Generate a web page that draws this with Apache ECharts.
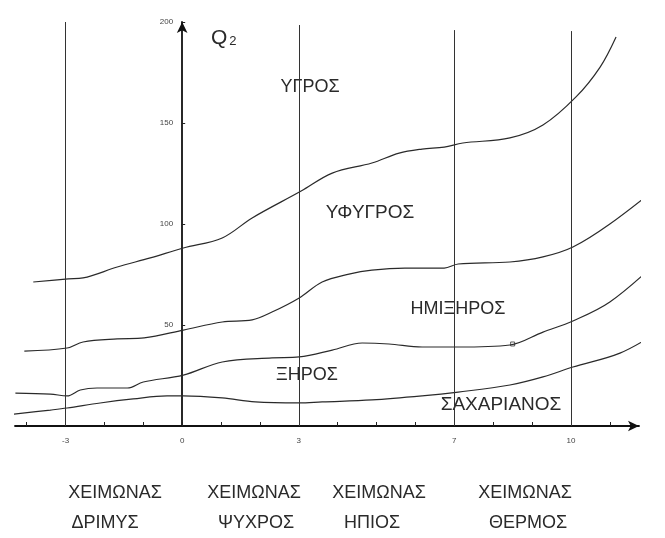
<!DOCTYPE html>
<html lang="el">
<head>
<meta charset="UTF-8">
<title>Κλιματόγραμμα Q2</title>
<script src="https://cdn.jsdelivr.net/npm/echarts@6.0.0/dist/echarts.min.js"></script>
<style>
    html, body { margin: 0; padding: 0; background: #fff; }
    #container { width: 665px; height: 538px; }
</style>
</head>
<body>
<div id="container"></div>
<script type="text/javascript">
    // ορια βιοκλιματικων οροφων: [m, Q2]
    const humidLine = [
        [-3.83, 71.3], [-2.93, 72.8], [-2.55, 73.3], [-1.67, 78.7], [-0.82, 83.2],
        [0.03, 88.1], [1.03, 93.1], [1.80, 103], [3.06, 116.3], [3.86, 125.2],
        [4.88, 130.2], [5.58, 135.1], [6.17, 137.1], [6.74, 138.1], [7.22, 140.1],
        [8.43, 142.6], [9.28, 149], [10.13, 162.9], [10.75, 177.7], [11.16, 192.6]
    ];
    const subhumidLine = [
        [-4.06, 37.1], [-2.96, 38.6], [-2.55, 41.6], [-1.67, 43.1], [-0.98, 43.6],
        [0.03, 47.5], [1.03, 51.5], [1.80, 52.5], [2.31, 56.4], [3.01, 63.4],
        [3.60, 71.3], [4.29, 75.2], [4.88, 77.2], [5.73, 78.2], [6.74, 78.2],
        [7.10, 80.2], [8.43, 81.2], [9.28, 83.7], [10.05, 88.6], [11.0, 100],
        [12.3, 119.3]
    ];
    const semiaridLine = [
        [-4.29, 16.3], [-3.39, 15.8], [-2.96, 14.9], [-2.62, 17.8], [-2.19, 18.8],
        [-1.41, 18.8], [-1.0, 21.8], [0.03, 25.2], [1.03, 31.7], [2.31, 33.7],
        [3.01, 34.2], [3.86, 37.6], [4.63, 41.1], [5.32, 40.6], [6.17, 39.1],
        [7.10, 39.1], [8.43, 40.1], [9.28, 46.5], [10.05, 52], [11.0, 61.4],
        [12.19, 80.7]
    ];
    const aridLine = [
        [-4.34, 5.9], [-3.39, 7.9], [-2.96, 8.9], [-2.11, 11.4], [-1.26, 13.4],
        [-0.39, 14.9], [0.03, 14.9], [1.03, 13.9], [1.88, 11.9], [3.01, 11.4],
        [3.60, 11.9], [4.88, 12.9], [6.17, 14.9], [7.10, 16.8], [8.43, 20.3],
        [9.28, 24.3], [10.05, 29.2], [11.26, 36.1], [12.19, 46]
    ];
    const oddMark = [[8.5, 40.6]];

    // ορια χειμωνα (m) και υψος γραμμων
    const winterBounds = [-3, 3, 7, 10];
    const winterTops = [200, 198.5, 196, 195.5];

    const xLabelValues = [-3, 0, 3, 7, 10];
    const xTickValues = [-4, -3, -2, -1, 0, 1, 2, 3, 4, 5, 6, 7, 8, 9, 10, 11];
    const yLabelValues = [50, 100, 150, 200];

    const zoneNames = ['ΥΓΡΟΣ', 'ΥΦΥΓΡΟΣ', 'ΗΜΙΞΗΡΟΣ', 'ΞΗΡΟΣ', 'ΣΑΧΑΡΙΑΝΟΣ'];
    const winterNames = ['ΔΡΙΜΥΣ', 'ΨΥΧΡΟΣ', 'ΗΠΙΟΣ', 'ΘΕΡΜΟΣ'];

    const font = '"Liberation Sans", "DejaVu Sans", sans-serif';
    const ink = '#2a2a2a';

    const xMin = -4.3, xMax = 11.75;
    const gridLeft = 15, gridRight = 26;
    const gridWidth = 665 - gridLeft - gridRight;
    // ο αξονας Q2 περναει απο m = 0
    const yAxisShift = -(0 - xMin) / (xMax - xMin) * gridWidth;

    const dom = document.getElementById('container');
    const myChart = echarts.init(dom, null, { renderer: 'canvas' });

    function curve(name, data) {
        return {
            name: name,
            type: 'line',
            data: data,
            smooth: 0.35,
            showSymbol: false,
            clip: false,
            silent: true,
            lineStyle: { color: ink, width: 1.2 },
            animation: false
        };
    }

    const boundLines = winterBounds.map((m, i) => [
        { coord: [m, 0] },
        { coord: [m, winterTops[i]] }
    ]);

    const first = curve('humid', humidLine);
    first.markLine = {
        silent: true,
        symbol: ['none', 'none'],
        label: { show: false },
        lineStyle: { color: '#333', width: 1, type: 'solid' },
        animation: false,
        data: boundLines
    };

    // θεσεις κειμενων (px)
    const zonePos = [[310, 87], [370, 213], [458, 309], [307, 375], [501, 405]];
    const zoneSize = [18, 19, 18, 18, 19];
    const winterPos = [[115, 105], [254, 256], [379, 372], [525, 528]];

    const graphics = [];
    zoneNames.forEach((t, i) => {
        graphics.push({
            type: 'text', x: zonePos[i][0], y: zonePos[i][1],
            style: {
                text: t, fill: ink, font: zoneSize[i] + 'px ' + font,
                textAlign: 'center', textVerticalAlign: 'middle'
            }
        });
    });
    winterNames.forEach((t, i) => {
        graphics.push({
            type: 'text', x: winterPos[i][0], y: 493,
            style: {
                text: 'ΧΕΙΜΩΝΑΣ', fill: ink, font: '18px ' + font,
                textAlign: 'center', textVerticalAlign: 'middle'
            }
        });
        graphics.push({
            type: 'text', x: winterPos[i][1], y: 523,
            style: {
                text: t, fill: ink, font: '18px ' + font,
                textAlign: 'center', textVerticalAlign: 'middle'
            }
        });
    });
    graphics.push({
        type: 'text', x: 211, y: 28,
        style: {
            text: '{q|Q}{s|2}', fill: ink,
            rich: {
                q: { fontSize: 21, fontFamily: font, fill: ink, verticalAlign: 'bottom' },
                s: { fontSize: 13, fontFamily: font, fill: ink, verticalAlign: 'bottom', padding: [0, 0, 1, 2] }
            }
        }
    });

    const option = {
        backgroundColor: '#fff',
        animation: false,
        grid: {
            left: gridLeft, right: gridRight, top: 22, bottom: 112,
            containLabel: false,
            outerBoundsMode: 'none'
        },
        xAxis: {
            type: 'value',
            min: xMin,
            max: xMax,
            splitLine: { show: false },
            axisLine: {
                show: true,
                onZero: false,
                symbol: ['none', 'arrow'],
                symbolSize: [8, 11],
                lineStyle: { color: '#111', width: 1.8 }
            },
            axisTick: {
                show: true, inside: true, length: 4,
                customValues: xTickValues,
                lineStyle: { color: '#222', width: 1 }
            },
            axisLabel: {
                customValues: xLabelValues,
                margin: 11,
                fontSize: 8,
                color: '#444',
                fontFamily: font
            }
        },
        yAxis: {
            type: 'value',
            min: 0,
            max: 200,
            position: 'left',
            offset: yAxisShift,
            splitLine: { show: false },
            axisLine: {
                show: true,
                onZero: false,
                symbol: ['none', 'arrow'],
                symbolSize: [8, 11],
                lineStyle: { color: '#111', width: 1.8 }
            },
            axisTick: {
                show: true, inside: true, length: 3,
                customValues: yLabelValues,
                lineStyle: { color: '#222', width: 1 }
            },
            axisLabel: {
                customValues: yLabelValues,
                margin: 9,
                fontSize: 8,
                color: '#444',
                fontFamily: font
            }
        },
        series: [
            first,
            curve('subhumid', subhumidLine),
            curve('semiarid', semiaridLine),
            curve('arid', aridLine),
            {
                name: 'mark',
                type: 'scatter',
                data: oddMark,
                symbol: 'rect',
                symbolSize: 4,
                silent: true,
                itemStyle: { color: '#fff', borderColor: '#333', borderWidth: 1 }
            }
        ],
        graphic: graphics
    };

    myChart.setOption(option);
    window.addEventListener('resize', myChart.resize);
</script>
</body>
</html>
